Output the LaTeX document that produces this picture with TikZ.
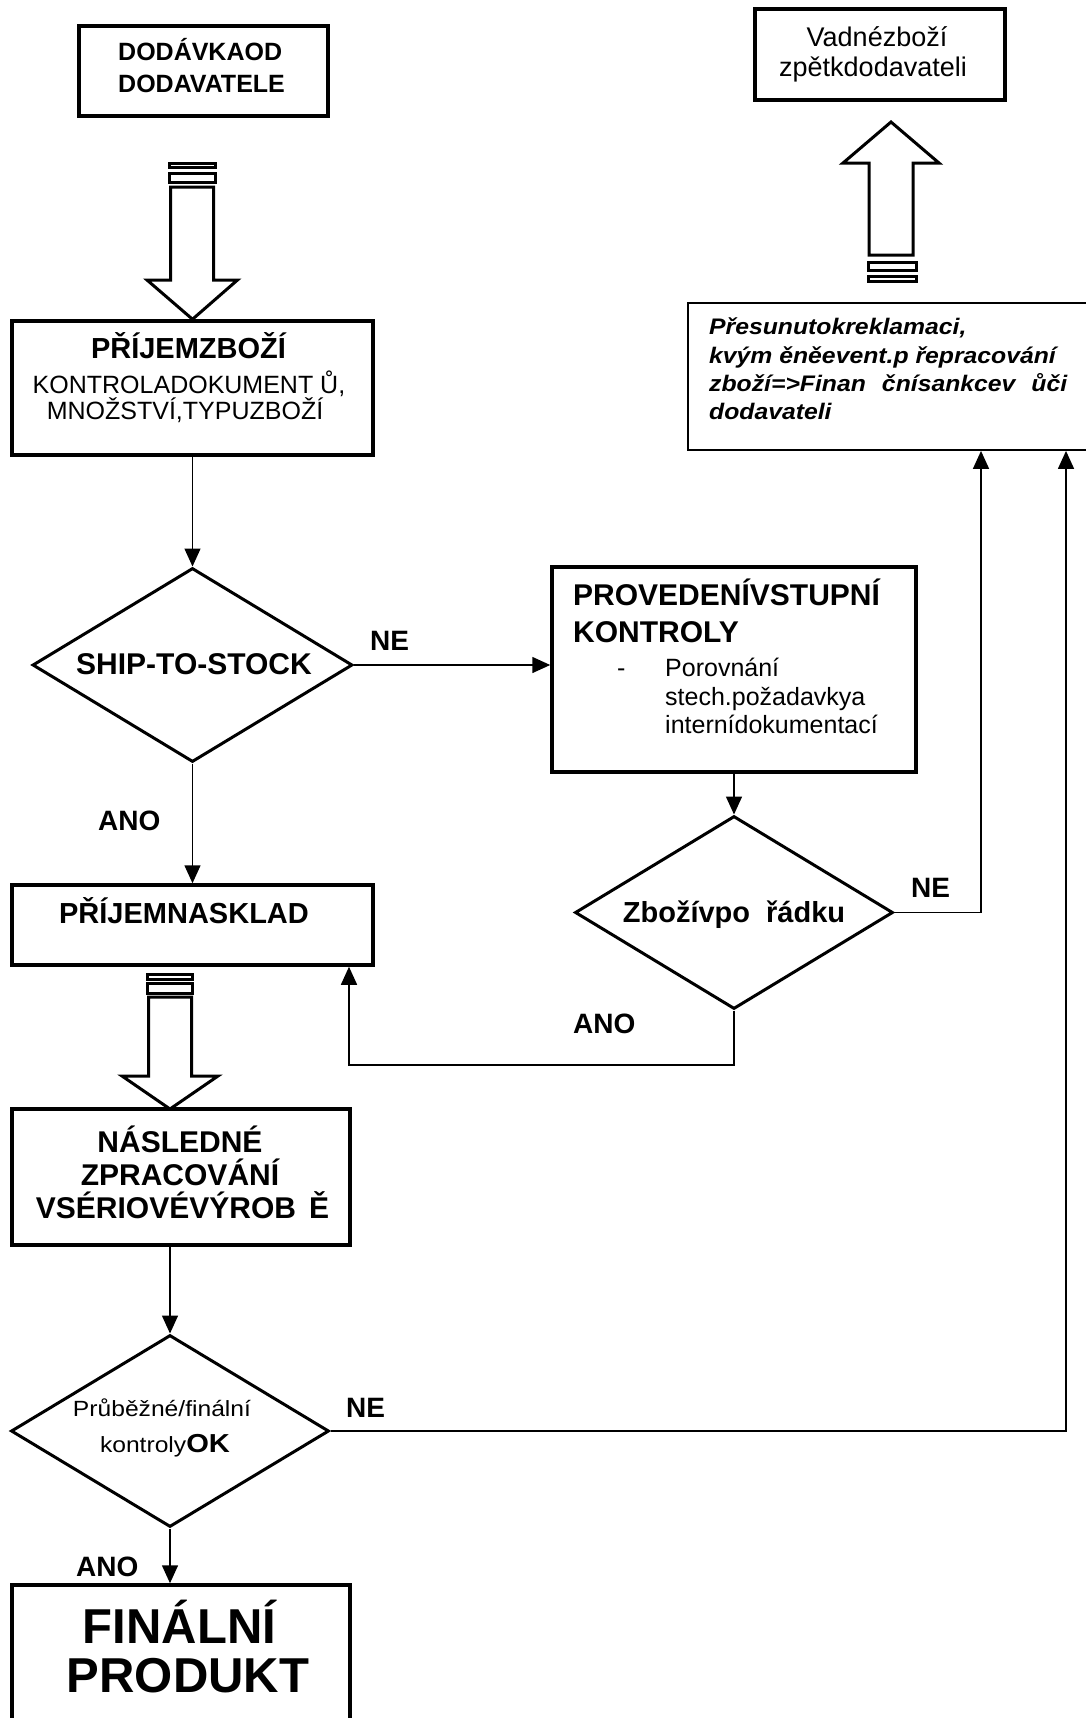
\documentclass[tikz,border=0pt]{standalone}
\usepackage{fontspec}
\setmainfont{Liberation Sans}
\newfontfamily\widesans[FakeStretch=1.1]{Liberation Sans}
\newfontfamily\midsans[FakeStretch=1.12]{Liberation Sans}
\usetikzlibrary{arrows.meta,shapes.geometric}
\newcommand\fsz[1]{\fontsize{#1pt}{#1pt}\selectfont}
\begin{document}
\begin{tikzpicture}[x=1pt,y=-1pt,
  thickbox/.style={draw, line width=3.5pt, inner sep=0pt, minimum width=#1},
  thinbox/.style={draw, line width=1.8pt, inner sep=0pt},
  dia/.style={diamond, draw, line width=3pt, inner sep=0pt},
  fat/.style={draw, line width=3pt, fill=white, line join=miter},
  conn/.style={line width=1.5pt},
  arr/.style={conn, -{Triangle[width=16pt,length=18pt]}},
  txt/.style={inner sep=0pt, anchor=base},
  ltxt/.style={inner sep=0pt, anchor=base west},
  hd/.style={font=\fsz{29}\bfseries},
  bd/.style={font=\fsz{25}},
  lab/.style={ltxt, font=\fsz{28}\bfseries}]
\useasboundingbox (0,0) rectangle (1086,1718);

% ---------- boxes and decisions ----------
\node[thickbox=249pt, minimum height=90pt] (dod) at (203.5,71) {};
\node[thickbox=250pt, minimum height=91pt, line width=3.3pt] (vad) at (880,54.5) {};
\node[thinbox, minimum width=420pt, minimum height=147pt] (rek) at (898,376.5) {};
\node[thickbox=361pt, minimum height=134pt] (prijem) at (192.5,388) {};
\node[dia, minimum width=320pt, minimum height=194pt] (ship) at (192.5,665) {};
\node[thickbox=364pt, minimum height=205pt] (prov) at (734,669.5) {};
\node[dia, minimum width=318pt, minimum height=193pt] (zb) at (734,912.5) {};
\node[thickbox=361pt, minimum height=80pt] (sklad) at (192.5,925) {};
\node[thickbox=338pt, minimum height=136pt] (nasl) at (181,1177) {};
\node[dia, minimum width=318pt, minimum height=192pt] (prub) at (170,1431) {};
\node[thickbox=338pt, minimum height=155pt] (final) at (181,1662.5) {};

% ---------- block arrows ----------
\draw[fat] (169,163) rectangle (215,167.5);
\draw[fat] (169,173) rectangle (215,182);
\draw[fat] (170.5,187) -- (213.5,187) -- (213.5,280) -- (237.5,280) -- (prijem.north) -- (147,280) -- (170.5,280) -- cycle;

\draw[fat] (147.5,974) rectangle (192.5,979);
\draw[fat] (147.5,983) rectangle (192.5,993);
\draw[fat] (148.5,997) -- (191.5,997) -- (191.5,1076) -- (218,1076) -- (170,1109) -- (122,1076) -- (148.5,1076) -- cycle;

\draw[fat] (891,122) -- (939,163) -- (913,163) -- (913,255) -- (869,255) -- (869,163) -- (843,163) -- cycle;
\draw[fat] (868,262) rectangle (916,270);
\draw[fat] (868,276) rectangle (916,281);

% ---------- connectors ----------
\coordinate (c1) at (981,0);
\coordinate (c2) at (1066,0);
\coordinate (c3) at (349,1065);
\draw[arr] (prijem.south) -- (ship.north);
\draw[arr] (ship.east) -- (ship.east -| prov.west);
\draw[arr] (ship.south) -- (sklad.north);
\draw[arr] (prov.south) -- (zb.north);
\draw[arr] (zb.east) -| (c1 |- rek.south);
\draw[arr] (zb.south) |- (c3) -- (c3 |- sklad.south);
\draw[arr] (nasl.south -| prub.north) -- (prub.north);
\draw[arr] (prub.east) -| (c2 |- rek.south);
\draw[arr] (prub.south) -- (prub.south |- final.north);

% ---------- texts ----------
\node[ltxt, font=\fsz{25}\bfseries] (t1) at (118,61) {DODÁVKAOD};
\node[ltxt, font=\fsz{25}\bfseries] (t2) at (118,93) {DODAVATELE};

\node[txt, font=\fsz{27}] (t3) at (877,47) {Vadnézboží};
\node[txt, font=\fsz{27}] (t4) at (873,77) {zpětkdodavateli};

\node[ltxt, font=\widesans\fsz{22.5}\bfseries\itshape] (t5) at (709,334) {Přesunutokreklamaci,};
\node[ltxt, font=\widesans\fsz{22.5}\bfseries\itshape] (t6) at (709,363) {kvým ěněevent.p řepracování};
\node[ltxt, font=\widesans\fsz{22.5}\bfseries\itshape] (t7) at (709,391) {\makebox[358pt][s]{zboží=>Finan čnísankcev ůči}};
\node[ltxt, font=\widesans\fsz{22.5}\bfseries\itshape] (t8) at (709,419) {dodavateli};

\node[txt, hd] (t9) at (188.5,358) {PŘÍJEMZBOŽÍ};
\node[txt, bd] (t10) at (189,393) {KONTROLADOKUMENT Ů,};
\node[txt, bd] (t11) at (185,419) {MNOŽSTVÍ,TYPUZBOŽÍ};

\node[txt, font=\fsz{30}\bfseries] (t12) at (194,674) {SHIP-TO-STOCK};
\node[lab] (l1) at (370,650) {NE};
\node[lab] (l2) at (98,830) {ANO};

\node[ltxt, font=\fsz{30}\bfseries] (t13) at (573,605) {PROVEDENÍVSTUPNÍ};
\node[ltxt, font=\fsz{30}\bfseries] (t14) at (573,642) {KONTROLY};
\node[ltxt, bd] (t15) at (617,676) {-};
\node[ltxt, bd] (t16) at (665,676) {Porovnání};
\node[ltxt, bd] (t17) at (665,705) {stech.požadavkya};
\node[ltxt, bd] (t18) at (665,733) {internídokumentací};

\node[txt, hd] (t19) at (734,922) {Zbožívpo\hspace{16pt}řádku};
\node[lab] (l3) at (911,897) {NE};
\node[lab] (l4) at (573,1033) {ANO};

\node[txt, hd] (t20) at (184,923) {PŘÍJEMNASKLAD};

\node[txt, font=\fsz{30}\bfseries] (t21) at (180,1152) {NÁSLEDNÉ};
\node[txt, font=\fsz{30}\bfseries] (t22) at (180,1185) {ZPRACOVÁNÍ};
\node[txt, font=\fsz{30}\bfseries] (t23) at (182.5,1218) {VSÉRIOVÉVÝROB\hspace{13pt}Ě};

\node[txt, font=\midsans\fsz{22}] (t24) at (162,1416) {Průběžné/finální};
\node[txt, font=\midsans\fsz{22}] (t25) at (165,1452) {kontroly{\fsz{26}\bfseries OK}};
\node[lab] (l5) at (346,1417) {NE};
\node[lab] (l6) at (76,1576) {ANO};

\node[txt, font=\fsz{49}\bfseries] (t26) at (179.5,1643) {FINÁLNÍ};
\node[txt, font=\fsz{49}\bfseries] (t27) at (188,1692) {PRODUKT};
\end{tikzpicture}
\end{document}
